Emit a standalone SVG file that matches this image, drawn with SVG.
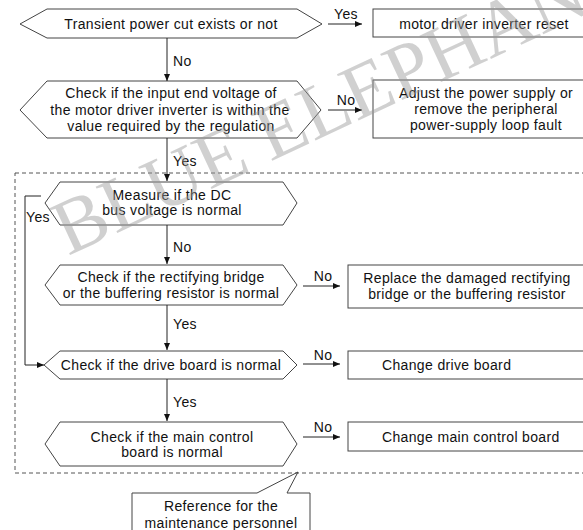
<svg xmlns="http://www.w3.org/2000/svg" width="583" height="530" viewBox="0 0 583 530">
<defs>
<marker id="ah" markerWidth="8" markerHeight="6" refX="7" refY="3" orient="auto" markerUnits="userSpaceOnUse">
<path d="M0,0 L7,3 L0,6 Z" fill="#111"/>
</marker>
<style>
.sh{fill:none;stroke:#444;stroke-width:1}
.t{font-family:"Liberation Sans",Arial,sans-serif;font-size:14px;fill:#111;letter-spacing:0.35px}
.c{text-anchor:middle}
.ln{fill:none;stroke:#222;stroke-width:1}
.ar{fill:none;stroke:#222;stroke-width:1;marker-end:url(#ah)}
.wm{font-family:"Liberation Serif",serif;font-size:78px;fill:#999;opacity:0.45}
</style>
</defs>
<rect width="583" height="530" fill="#fff"/>
<rect x="15" y="173" width="580" height="300" fill="none" stroke="#555" stroke-width="1" stroke-dasharray="4,3"/>
<g id="n1"><polygon class="sh" points="20,24 47,9 297,9 322,24 297,38 47,38"/><text class="t c" x="171" y="29">Transient power cut exists or not</text></g>
<g id="n2"><rect class="sh" x="373" y="9" width="230" height="28"/><text class="t c" x="484" y="29">motor driver inverter reset</text></g>
<g id="n3"><polygon class="sh" points="20,110 47,81 297,81 321,110 297,138 47,138"/><text class="t c" x="171" y="98">Check if the input end voltage of</text><text class="t c" x="170" y="115">the motor driver inverter is within the</text><text class="t c" x="171" y="131">value required by the regulation</text></g>
<g id="n4"><rect class="sh" x="373" y="80" width="230" height="58"/><text class="t c" x="486" y="98">Adjust the power supply or</text><text class="t c" x="486" y="114">remove the peripheral</text><text class="t c" x="486" y="130">power-supply loop fault</text></g>
<g id="n5"><polygon class="sh" points="45,203 60,182 283,182 297,203 283,225 60,225"/><text class="t c" x="172" y="200">Measure if the DC</text><text class="t c" x="172" y="215">bus voltage is normal</text></g>
<g id="n6"><polygon class="sh" points="45,285 60,265 283,265 297,285 283,305 60,305"/><text class="t c" x="171" y="282">Check if the rectifying bridge</text><text class="t c" x="171" y="298">or the buffering resistor is normal</text></g>
<g id="n7"><rect class="sh" x="348" y="265" width="250" height="43"/><text class="t c" x="467" y="283">Replace the damaged rectifying</text><text class="t c" x="467" y="299">bridge or the buffering resistor</text></g>
<g id="n8"><polygon class="sh" points="44,365 60,351 283,351 297,365 283,379 60,379"/><text class="t c" x="171" y="370">Check if the drive board is normal</text></g>
<g id="n9"><rect class="sh" x="348" y="351" width="250" height="28"/><text class="t" x="382" y="370">Change drive board</text></g>
<g id="n10"><polygon class="sh" points="45,444 60,422 283,422 297,444 283,466 60,466"/><text class="t c" x="172" y="442">Check if the main control</text><text class="t c" x="172" y="457">board is normal</text></g>
<g id="n11"><rect class="sh" x="348" y="422" width="250" height="29"/><text class="t" x="382" y="442">Change main control board</text></g>
<g id="n12"><path class="sh" d="M132,535 V493 H257 L298,472 L287,493 H310 V535"/><text class="t c" x="221" y="511">Reference for the</text><text class="t c" x="221" y="528">maintenance personnel</text></g>
<g id="connectors">
<line class="ar" x1="328" y1="24" x2="362" y2="24"/><text class="t c" x="346" y="19">Yes</text>
<line class="ar" x1="167" y1="38" x2="167" y2="81"/><text class="t" x="173" y="66">No</text>
<line class="ar" x1="328" y1="110" x2="362" y2="110"/><text class="t c" x="346" y="105">No</text>
<line class="ar" x1="167" y1="138" x2="167" y2="181"/><text class="t" x="173" y="166">Yes</text>
<polyline class="ar" points="41,196 25,196 25,365 44,365"/><text class="t" x="26" y="222">Yes</text>
<line class="ar" x1="167" y1="225" x2="167" y2="264"/><text class="t" x="173" y="252">No</text>
<line class="ar" x1="303" y1="286" x2="340" y2="286"/><text class="t c" x="323" y="281">No</text>
<line class="ar" x1="167" y1="305" x2="167" y2="350"/><text class="t" x="173" y="329">Yes</text>
<line class="ar" x1="303" y1="364" x2="340" y2="364"/><text class="t c" x="323" y="360">No</text>
<line class="ar" x1="167" y1="379" x2="167" y2="421"/><text class="t" x="173" y="407">Yes</text>
<line class="ar" x1="303" y1="437" x2="340" y2="437"/><text class="t c" x="323" y="432">No</text>
</g>
<text class="wm" transform="translate(68,256) rotate(-25)">BLUE ELEPHANT</text>
</svg>
